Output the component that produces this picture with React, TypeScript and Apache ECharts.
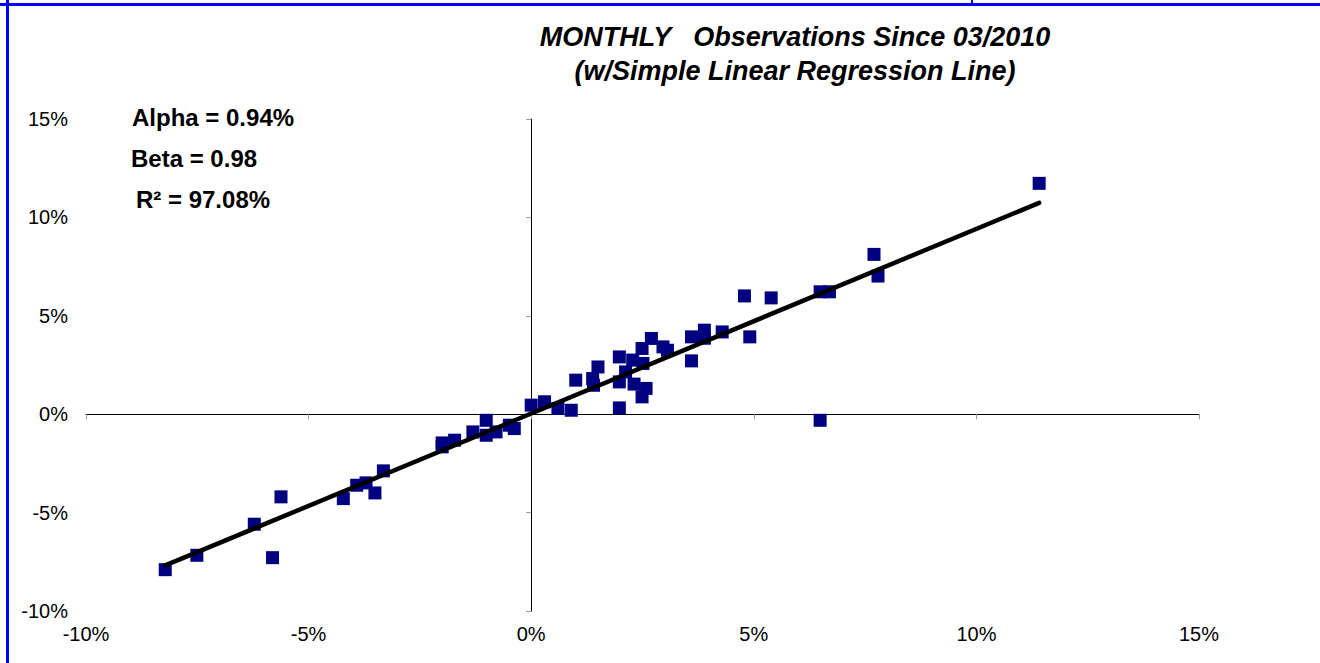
import React, { useEffect, useRef } from "react";
import * as echarts from "echarts";

// Fund vs. benchmark monthly returns (%)
const benchX = [
  -8.22, -7.51, -6.22, -5.62, -5.81, -4.22, -3.92, -3.71, -3.51, -3.32,
  -2.0, -2.0, -1.72, -1.31, -1.01, -1.01, -0.79, -0.49, -0.38,
  0.0, 0.3, 0.6, 0.9, 1.0, 1.4, 1.5, 1.38, 1.98, 1.98, 1.98, 2.12, 2.28, 2.31,
  2.49, 2.58, 2.49, 2.51, 2.7, 2.96, 3.06, 3.6, 3.6, 3.89, 3.89, 4.29, 4.79,
  4.91, 5.39, 6.49, 6.7, 6.49, 7.7, 7.79, 11.41,
];
const fundY = [
  -7.9, -7.17, -5.59, -4.2, -7.29, -4.29, -3.61, -3.49, -4.0, -2.88,
  -1.46, -1.66, -1.32, -0.9, -0.31, -1.07, -0.9, -0.56, -0.73,
  0.46, 0.63, 0.29, 0.2, 1.73, 1.47, 2.4, 1.81, 0.32, 2.91, 1.64, 2.15, 2.75, 1.53,
  0.88, 1.31, 3.34, 2.58, 3.85, 3.42, 3.25, 3.93, 2.71, 4.27, 3.86, 4.18, 6.01,
  3.93, 5.91, 6.22, 6.22, -0.31, 8.12, 7.02, 11.73,
];
// Regression line end points
const lineX = [-8.22, 11.41];
const lineY = [-7.68, 10.74];
// Axis ticks
const axisMin = -10;
const axisMax = 15;
const axisStep = 5;

const titleLines = ["MONTHLY   Observations Since 03/2010", "(w/Simple Linear Regression Line)"];
const statLines = ["Alpha = 0.94%", "Beta = 0.98", "R\u00B2 = 97.08%"];

const FONT = "'Liberation Sans', Arial, Helvetica, sans-serif";

export default function App() {
  const ref = useRef<HTMLDivElement>(null);
  useEffect(() => {
    if (!ref.current) return;
    const chart = echarts.init(ref.current, undefined, { renderer: "svg" });
    const points = benchX.map((x, i) => [x, fundY[i]]);
    const linePts = lineX.map((x, i) => [x, lineY[i]]);
    const pct = (v: number) => `${v}%`;
    const base = { min: axisMin, max: axisMax, interval: axisStep, type: "value" as const };
    chart.setOption({
      animation: false,
      backgroundColor: "#ffffff",
      grid: { left: 86, right: 121, top: 119, bottom: 52, containLabel: false },
      xAxis: [
        {
          ...base,
          position: "bottom",
          axisLine: { show: true, onZero: true, lineStyle: { color: "#000", width: 1 } },
          axisTick: { show: true, length: 5, lineStyle: { color: "#9a9a9a" } },
          axisLabel: { show: false },
          splitLine: { show: false },
        },
        {
          ...base,
          position: "bottom",
          axisLine: { show: false, onZero: false },
          axisTick: { show: false },
          axisLabel: { show: true, formatter: pct, color: "#000", fontSize: 20, fontFamily: FONT, margin: 13 },
          splitLine: { show: false },
        },
      ],
      yAxis: [
        {
          ...base,
          position: "left",
          axisLine: { show: true, onZero: true, lineStyle: { color: "#000", width: 1 } },
          axisTick: { show: true, length: 5, lineStyle: { color: "#9a9a9a" } },
          axisLabel: { show: false },
          splitLine: { show: false },
        },
        {
          ...base,
          position: "left",
          axisLine: { show: false, onZero: false },
          axisTick: { show: false },
          axisLabel: { show: true, formatter: pct, color: "#000", fontSize: 20, fontFamily: FONT, margin: 18 },
          splitLine: { show: false },
        },
      ],
      series: [
        {
          type: "scatter",
          xAxisIndex: 0,
          yAxisIndex: 0,
          symbol: "rect",
          symbolSize: 13,
          itemStyle: { color: "#000080", opacity: 1 },
          data: points,
          z: 2,
        },
        {
          type: "line",
          xAxisIndex: 0,
          yAxisIndex: 0,
          data: linePts,
          showSymbol: false,
          symbol: "none",
          lineStyle: { color: "#000", width: 4.5, cap: "round" },
          z: 3,
        },
      ],
      graphic: [
        { type: "rect", shape: { x: 6, y: 0, width: 3, height: 663 }, style: { fill: "#0000ff" }, silent: true },
        { type: "rect", shape: { x: 0, y: 3, width: 1320, height: 3 }, style: { fill: "#0000ff" }, silent: true },
        { type: "rect", shape: { x: 971, y: 0, width: 2, height: 4 }, style: { fill: "#0000ff" }, silent: true },
        ...titleLines.map((t, i) => ({
          type: "text",
          x: 795,
          y: [37, 71][i],
          style: {
            text: t,
            fill: "#000",
            font: `italic bold 27px ${FONT}`,
            textAlign: "center",
            textVerticalAlign: "middle",
          },
        })),
        ...statLines.map((t, i) => ({
          type: "text",
          x: [132, 131, 136][i],
          y: 117 + i * 41,
          style: {
            text: t,
            fill: "#000",
            font: `bold 24px ${FONT}`,
            textAlign: "left",
            textVerticalAlign: "middle",
          },
        })),
      ],
    });
    return () => chart.dispose();
  }, []);
  return (
    <div
      ref={ref}
      style={{ position: "fixed", left: 0, top: 0, width: 1320, height: 663, background: "#fff" }}
    />
  );
}
